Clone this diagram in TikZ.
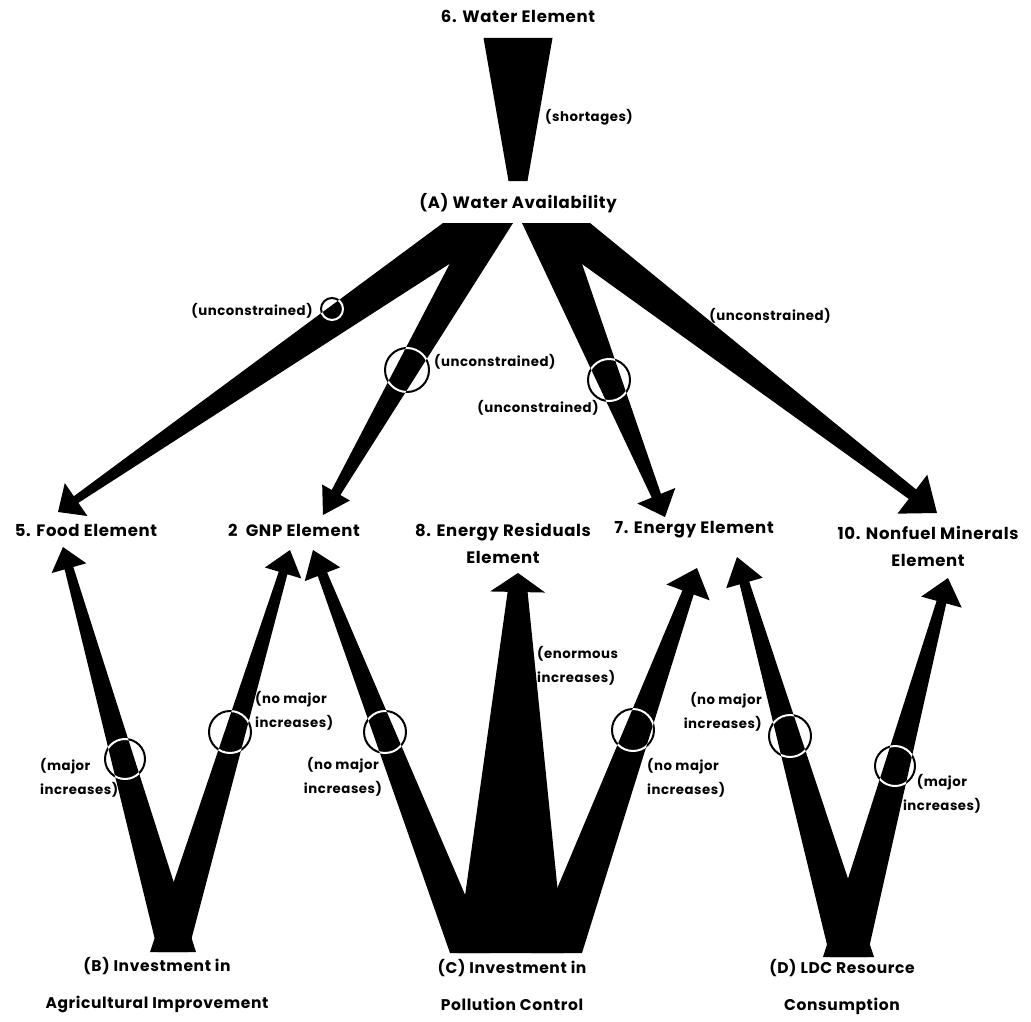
\documentclass[tikz,border=0pt]{standalone}
\usepackage{fontspec}
\setmainfont{Poppins}[LetterSpace=4]
\usetikzlibrary{calc}
\tikzset{
  wa diagram/.style={x=1pt, y=-1pt, line join=miter},
  wa element/.style={font=\bfseries\fontsize{16.5}{27}\selectfont,
    align=center, inner sep=0pt},
  wa lower/.style={wa element, font=\bfseries\fontsize{15.5}{37}\selectfont},
  wa note/.style={font=\bfseries\fontsize{13.3}{24}\selectfont, inner sep=0pt},
  % tapered flow: base half width (signed), shaft half width, head half width, head length
  wa flow/.style n args={4}{fill=black, to path={
    ($(\tikztostart)+(#1,0)$)
    -- ($(\tikztotarget)!#4pt!(\tikztostart)!#2pt!-90:(\tikztostart)$)
    -- ($(\tikztotarget)!#4pt!(\tikztostart)!#3pt!-90:(\tikztostart)$)
    -- (\tikztotarget)
    -- ($(\tikztotarget)!#4pt!(\tikztostart)!#3pt!90:(\tikztostart)$)
    -- ($(\tikztotarget)!#4pt!(\tikztostart)!#2pt!90:(\tikztostart)$)
    -- ($(\tikztostart)-(#1,0)$) -- cycle}},
  wa ring/.style={draw=white, line width=2pt, blend mode=difference}
}
\begin{document}
\begin{tikzpicture}[wa diagram]
\fill[white] (0,0) rectangle (1031,1022);
% elements
\node[wa element] (water) at (518,16) {6. Water Element};
\node[wa element] (avail) at (518,203) {(A) Water Availability};
\node[wa element] (food) at (86,530) {5. Food Element};
\node[wa element] (gnp) at (294,530) {2\enspace GNP Element};
\node[wa element] (resid) at (503,543) {8. Energy Residuals\\Element};
\node[wa element] (energy) at (694,530) {7. Energy Element};
\node[wa element] (nonfuel) at (928,546) {10. Nonfuel Minerals\\Element};
\node[wa lower] (agri) at (157,985) {(B) Investment in\\Agricultural Improvement};
\node[wa lower] (pollut) at (512,985) {(C) Investment in\\Pollution Control};
\node[wa lower] (ldc) at (842,987) {(D) LDC Resource\\Consumption};
% flow ends
\coordinate (s6) at (518,38);      \coordinate (t6) at (518,181);
\coordinate (sA5) at (478,223);    \coordinate (tA5) at (58,512);
\coordinate (sA2) at (492,223);    \coordinate (tA2) at (323,515);
\coordinate (sA7) at (545,223);    \coordinate (tA7) at (665,517);
\coordinate (sA10) at (557.5,223); \coordinate (tA10) at (937,513);
\coordinate (sB5) at (177,952);    \coordinate (tB5) at (63,547);
\coordinate (sB2) at (169,952);    \coordinate (tB2) at (290,550);
\coordinate (sC2) at (470,953);    \coordinate (tC2) at (313,550);
\coordinate (sC8) at (510.5,953);  \coordinate (tC8) at (518,573);
\coordinate (sC7) at (556,953);    \coordinate (tC7) at (697,568);
\coordinate (sD7) at (852,957);    \coordinate (tD7) at (737,557);
\coordinate (sD10) at (845,957);   \coordinate (tD10) at (948,578);
% flows
\fill[wa flow={34.5}{9.5}{9.5}{0}] (s6) to (t6);
\fill[wa flow={35}{4}{20}{22}] (sA5) to (tA5);
\fill[wa flow={21}{5}{16}{26}] (sA2) to (tA2);
\fill[wa flow={23}{5}{20.5}{23}] (sA7) to (tA7);
\fill[wa flow={32.5}{6}{24.5}{31}] (sA10) to (tA10);
\fill[wa flow={-19}{4.5}{18}{22}] (sB5) to (tB5);
\fill[wa flow={-19}{4.5}{19}{24}] (sB2) to (tB2);
\fill[wa flow={-20}{5}{19}{26}] (sC2) to (tC2);
\fill[wa flow={-53.5}{10}{27.5}{19}] (sC8) to (tC8);
\fill[wa flow={-26}{6}{23}{26}] (sC7) to (tC7);
\fill[wa flow={-22}{5}{19}{27}] (sD7) to (tD7);
\fill[wa flow={-22}{5}{21}{25}] (sD10) to (tD10);
% rings
\draw[wa ring] (332,309) circle[radius=11];
\draw[wa ring] (407,370) circle[radius=22];
\draw[wa ring] (609,380) circle[radius=21];
\draw[wa ring] (125,759) circle[radius=20];
\draw[wa ring] (230,732) circle[radius=21];
\draw[wa ring] (385,732) circle[radius=21];
\draw[wa ring] (633,730) circle[radius=21];
\draw[wa ring] (790,736) circle[radius=21];
\draw[wa ring] (895,766) circle[radius=20];
% notes
\node[wa note,anchor=west] (short) at (545,117) {(shortages)};
\node[wa note] (unc5) at (252,311) {(unconstrained)};
\node[wa note,anchor=west] (unc2) at (434,362) {(unconstrained)};
\node[wa note] (unc7) at (538,408) {(unconstrained)};
\node[wa note] (unc10) at (770,316) {(unconstrained)};
\node[wa note,anchor=west,align=left] (incB5) at (40,778) {(major\\increases)};
\node[wa note,anchor=west,align=left] (incB2) at (255,711) {(no major\\increases)};
\node[wa note,align=center] (incC2) at (343,777) {(no major\\increases)};
\node[wa note,anchor=west,align=left] (incC8) at (537,666) {(enormous\\increases)};
\node[wa note,anchor=west,align=left] (incC7) at (647,778) {(no major\\increases)};
\node[wa note,anchor=east,align=right] (incD7) at (762,712) {(no major\\increases)};
\node[wa note,align=center] (incD10) at (942,794) {(major\\increases)};
\end{tikzpicture}
\end{document}
